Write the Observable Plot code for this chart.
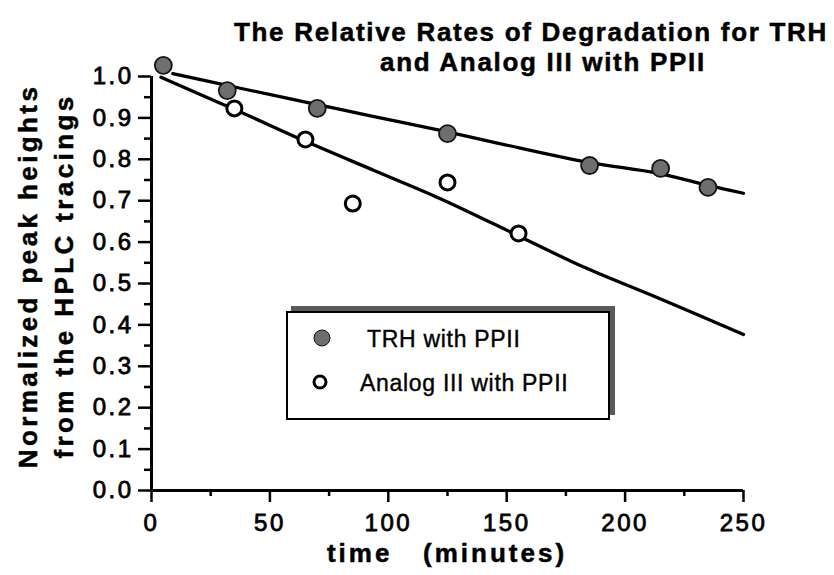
<!DOCTYPE html>
<html>
<head>
<meta charset="utf-8">
<script src="https://cdn.jsdelivr.net/npm/d3@7"></script>
<script src="https://cdn.jsdelivr.net/npm/@observablehq/plot@0.6"></script>
<style>
  html, body { margin: 0; padding: 0; background: white; }
  #wrap { position: relative; width: 834px; height: 575px; font-family: "Liberation Sans", Arial, sans-serif; color: black; }
  #wrap svg text { letter-spacing: 2.5px; stroke: black; stroke-width: 0.8px; paint-order: stroke; }
  .title { position: absolute; left: 0; width: 1080px; text-align: center; font-weight: bold; font-size: 26px; letter-spacing: 1.7px; white-space: pre; line-height: 1; -webkit-text-stroke: 0.5px black; }
  .ylab { position: absolute; font-weight: bold; font-size: 26px; letter-spacing: 3.4px; white-space: pre; transform: translate(-50%, -50%) rotate(-90deg); line-height: 1; -webkit-text-stroke: 0.5px black; }
  .xlab { position: absolute; font-weight: bold; font-size: 26px; letter-spacing: 3px; white-space: pre; transform: translate(-50%, -50%); line-height: 1; -webkit-text-stroke: 0.5px black; }
  #legend { position: absolute; left: 286px; top: 311px; width: 324px; height: 109px; box-sizing: border-box; border: 2px solid black; background: white; box-shadow: 5px -5px 0 #5a5a5a; }
  .lgtext { position: absolute; font-size: 23px; letter-spacing: 0.7px; white-space: pre; transform: translateY(-50%); line-height: 1; -webkit-text-stroke: 0.4px black; }
  .sym { position: absolute; border-radius: 50%; box-sizing: border-box; transform: translate(-50%, -50%); }
</style>
</head>
<body>
<div id="wrap"></div>
<script>
// ---- data ----
const titleLines = ["The Relative Rates of Degradation for TRH", "and Analog III with PPII"];
const yLabelLines = ["Normalized peak heights", "from the HPLC tracings"];
const xLabel = "time   (minutes)";
const seriesNames = ["TRH with PPII", "Analog III with PPII"];

const xTicks = [0, 50, 100, 150, 200, 250];
const xMinorTicks = [25, 75, 125, 175, 225];
const yTicks = [0, 0.1, 0.2, 0.3, 0.4, 0.5, 0.6, 0.7, 0.8, 0.9, 1.0];
const yMinorTicks = [0.05, 0.15, 0.25, 0.35, 0.45, 0.55, 0.65, 0.75, 0.85, 0.95];

// measured points
const trhTime  = [5, 32, 70, 125, 185, 215, 235];
const trhValue = [1.027, 0.966, 0.923, 0.862, 0.785, 0.778, 0.732];
const anaTime  = [35, 65, 85, 125, 155];
const anaValue = [0.923, 0.848, 0.693, 0.744, 0.621];

// fitted curves
const trhFitTime  = [9, 38, 66, 94, 122, 147, 184, 214, 235, 250];
const trhFitValue = [1.007, 0.971, 0.937, 0.903, 0.870, 0.838, 0.793, 0.766, 0.737, 0.718];
const anaFitTime  = [4, 38, 66, 94, 122, 155, 182, 211, 250];
const anaFitValue = [0.998, 0.913, 0.841, 0.773, 0.705, 0.615, 0.541, 0.472, 0.377];

// ---- build tables ----
const trh = trhTime.map((t, i) => ({t, v: trhValue[i]}));
const ana = anaTime.map((t, i) => ({t, v: anaValue[i]}));
const trhFit = trhFitTime.map((t, i) => ({t, v: trhFitValue[i]}));
const anaFit = anaFitTime.map((t, i) => ({t, v: anaFitValue[i]}));

const W = 834, H = 575;
const mL = 151, mR = 91, mT = 76, mB = 85;

const chart = Plot.plot({
  width: W, height: H,
  marginLeft: mL, marginRight: mR, marginTop: mT, marginBottom: mB,
  style: {fontFamily: "'Liberation Sans', Arial, sans-serif", color: "black", background: "white", overflow: "visible"},
  x: {domain: [0, 250]},
  y: {domain: [0, 1]},
  marks: [
    Plot.axisX({ticks: xTicks, tickSize: 12, tickPadding: 11, fontSize: 24, strokeWidth: 2.5, tickFormat: d => String(d), label: null}),
    Plot.axisX({ticks: xMinorTicks, tickSize: 6, strokeWidth: 2.5, tickFormat: () => "", label: null}),
    Plot.axisY({ticks: yTicks, tickSize: 13, tickPadding: 5, fontSize: 24, strokeWidth: 2.5, tickFormat: d3.format(".1f"), label: null}),
    Plot.axisY({ticks: yMinorTicks, tickSize: 7, strokeWidth: 2.5, tickFormat: () => "", label: null}),
    Plot.ruleY([0], {x1: 0, x2: 250, strokeWidth: 3}),
    Plot.ruleX([0], {y1: 0, y2: 1, strokeWidth: 3}),
    Plot.line(trhFit, {x: "t", y: "v", stroke: "black", strokeWidth: 3.3, curve: "catmull-rom"}),
    Plot.line(anaFit, {x: "t", y: "v", stroke: "black", strokeWidth: 3.3, curve: "catmull-rom"}),
    Plot.dot(ana, {x: "t", y: "v", r: 7.5, fill: "white", stroke: "black", strokeWidth: 3}),
    Plot.dot(trh, {x: "t", y: "v", r: 8.5, fill: "#6e6e6e", stroke: "#141414", strokeWidth: 1.8})
  ]
});

const wrap = document.getElementById("wrap");
wrap.appendChild(chart);

function addDiv(cls, text, styles) {
  const d = document.createElement("div");
  d.className = cls;
  d.textContent = text;
  Object.assign(d.style, styles);
  wrap.appendChild(d);
  return d;
}

// title
addDiv("title", titleLines[0], {left: (531 - 540) + "px", top: "19px"});
addDiv("title", titleLines[1], {left: (543 - 540) + "px", top: "49px"});

// y label (two rotated lines)
addDiv("ylab", yLabelLines[0], {left: "28px", top: "276px"});
addDiv("ylab", yLabelLines[1], {left: "64px", top: "276px"});

// x label
addDiv("xlab", xLabel, {left: "447px", top: "553px"});

// legend
const leg = document.createElement("div");
leg.id = "legend";
wrap.appendChild(leg);
addDiv("sym", "", {left: "322px", top: "338px", width: "17px", height: "17px", background: "#6e6e6e", border: "1.8px solid #141414"});
addDiv("lgtext", seriesNames[0], {left: "367px", top: "339px"});
addDiv("sym", "", {left: "320px", top: "382px", width: "15px", height: "15px", background: "white", border: "3px solid black"});
addDiv("lgtext", seriesNames[1], {left: "360px", top: "383px"});
</script>
</body>
</html>
